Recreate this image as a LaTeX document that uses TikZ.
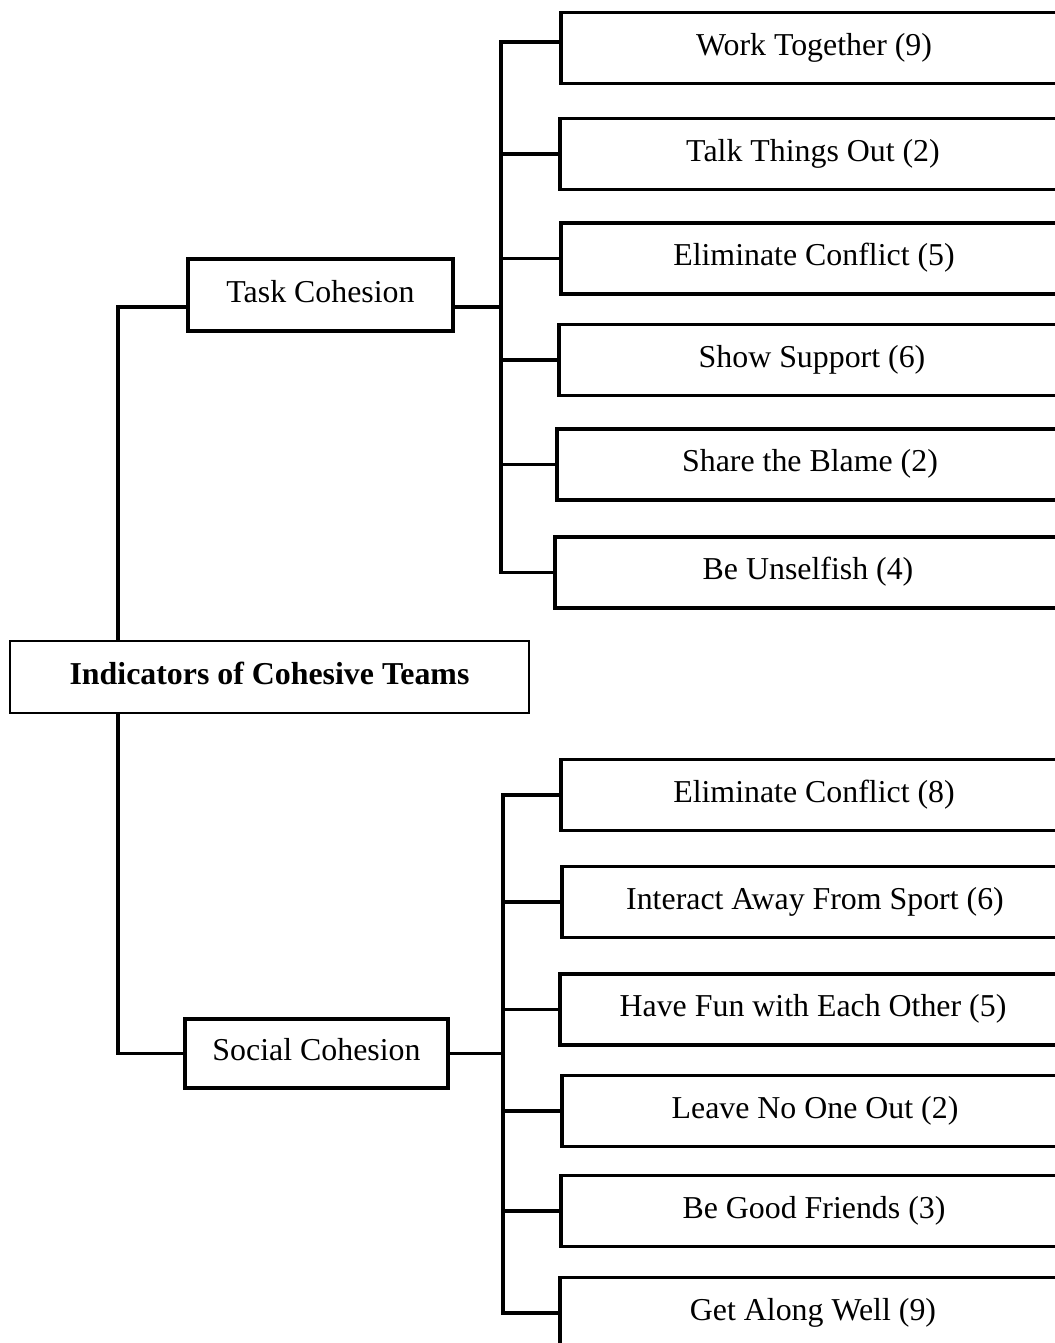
\documentclass[tikz,border=0pt]{standalone}
\usepackage{fontspec}
\setmainfont{Liberation Serif}
\usetikzlibrary{positioning,calc}
\tikzset{
    box/.style={draw, line width=2.9pt, outer sep=0pt, inner sep=0pt, align=center,
        font=\fontsize{23.9pt}{28pt}\selectfont, text height=17pt, text depth=6.5pt},
    leaf/.style={box, anchor=west, minimum width=379.5pt, minimum height=53.25pt},
    branch/.style={box, minimum height=54pt},
    root/.style={box, line width=1.3pt, minimum width=389.25pt, minimum height=54pt, font=\fontsize{23.9pt}{28pt}\selectfont\bfseries},
    link/.style={line width=2.6pt, line join=miter}
}

\begin{document}
\begin{tikzpicture}[x=0.75pt, y=-0.75pt]
    \useasboundingbox (0,0) rectangle (1055,1343);
    \clip (0,0) rectangle (1055,1343);

    \node[root] (ind) at (269.5,677) {Indicators of Cohesive Teams};
    \node[branch, minimum width=198.75pt] (task) at (320.5,295) {Task Cohesion};
    \node[branch, minimum width=197.25pt, minimum height=51.75pt] (social) at (316.5,1053.5) {Social Cohesion};

    \node[leaf] (t1) at (561,48) {Work Together (9)};
    \node[leaf] (t2) at (560,154) {Talk Things Out (2)};
    \node[leaf] (t3) at (561,258.5) {Eliminate Conflict (5)};
    \node[leaf] (t4) at (559,360) {Show Support (6)};
    \node[leaf] (t5) at (557,464.5) {Share the Blame (2)};
    \node[leaf] (t6) at (555,572.5) {Be Unselfish (4)};

    \node[leaf] (s1) at (561,795) {Eliminate Conflict (8)};
    \node[leaf] (s2) at (562,902) {Interact Away From Sport (6)};
    \node[leaf] (s3) at (560,1009.5) {Have Fun with Each Other (5)};
    \node[leaf] (s4) at (562,1111) {Leave No One Out (2)};
    \node[leaf] (s5) at (561,1211) {Be Good Friends (3)};
    \node[leaf] (s6) at (560,1313) {Get Along Well (9)};

    \coordinate (trunk) at (118,0);
    \coordinate (tbar) at (501,0);
    \coordinate (sbar) at (503,0);

    % trunk
    \draw[link] (ind.north -| trunk) |- ([yshift=-9pt]task.west);
    \draw[link] (ind.south -| trunk) |- (social.west);

    % task bar
    \draw[link] ([yshift=-9pt]task.east) -- ([yshift=-9pt]task.east -| tbar);
    \draw[link] ([yshift=4.5pt]t1.west) -- ([yshift=4.5pt]t1.west -| tbar) -- (t6.west -| tbar) -- (t6.west);
    \draw[link] (t2.west -| tbar) -- (t2.west);
    \draw[link] (t3.west -| tbar) -- (t3.west);
    \draw[link] (t4.west -| tbar) -- (t4.west);
    \draw[link] (t5.west -| tbar) -- (t5.west);

    % social bar
    \draw[link] (social.east) -- (social.east -| sbar);
    \draw[link] (s1.west) -- (s1.west -| sbar) -- (s6.west -| sbar) -- (s6.west);
    \draw[link] (s2.west -| sbar) -- (s2.west);
    \draw[link] (s3.west -| sbar) -- (s3.west);
    \draw[link] (s4.west -| sbar) -- (s4.west);
    \draw[link] (s5.west -| sbar) -- (s5.west);
\end{tikzpicture}
\end{document}
